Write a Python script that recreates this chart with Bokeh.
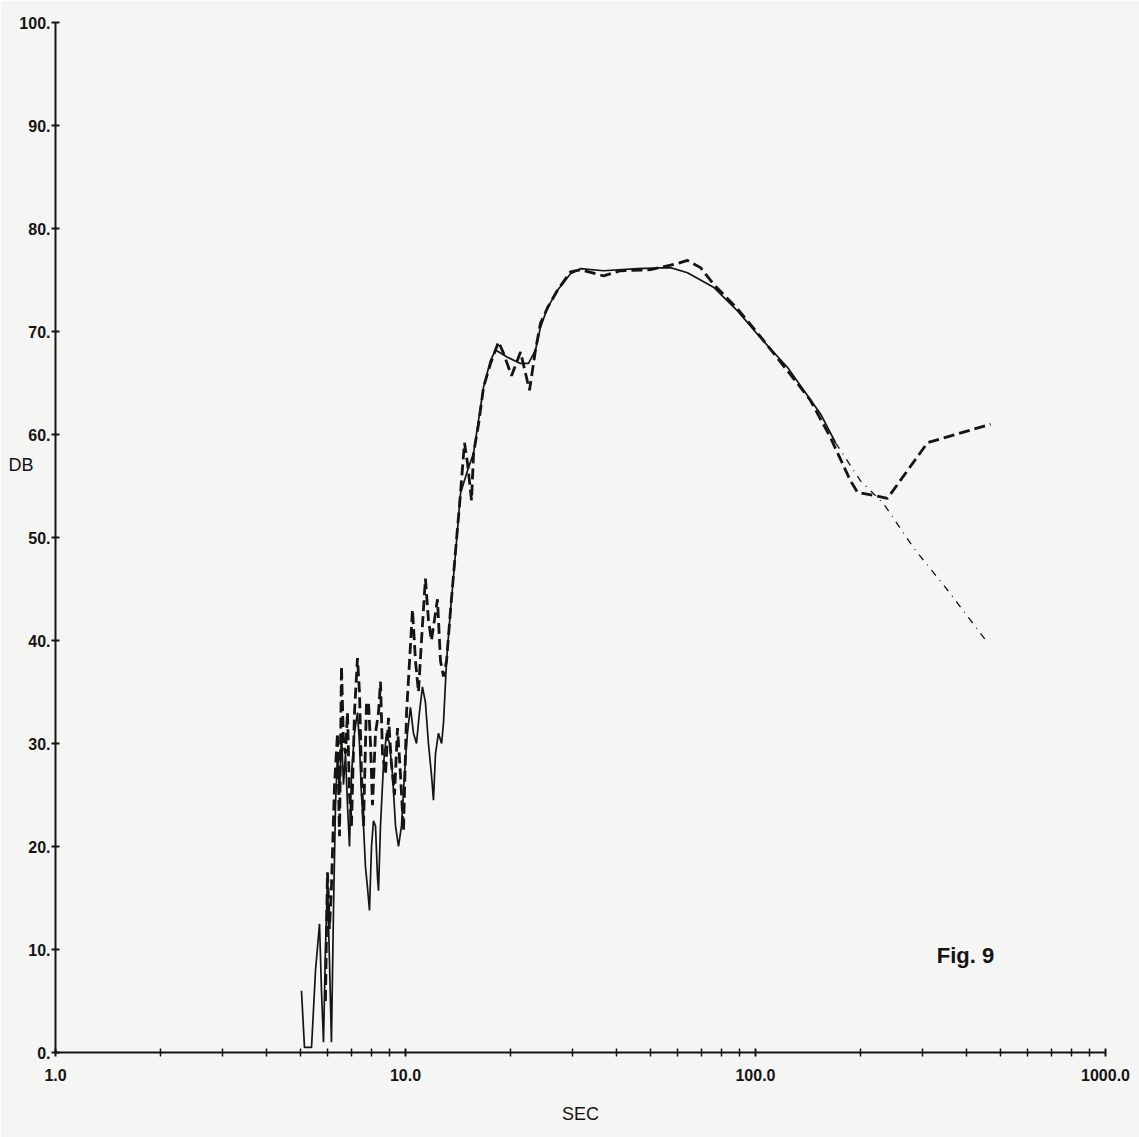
from bokeh.plotting import figure
from bokeh.models import FixedTicker, Label, LinearAxis
from bokeh.embed import file_html
from bokeh.resources import INLINE

# ---- data ----
solid_sec = [5.044, 5.145, 5.389, 5.533, 5.680, 5.754, 5.830, 5.906, 5.984, 6.063, 6.143, 6.228,
             6.310, 6.393, 6.478, 6.563, 6.650, 6.738, 6.827, 6.918, 7.009, 7.149, 7.291, 7.388,
             7.485, 7.586, 7.686, 7.788, 7.891, 7.996, 8.101, 8.208, 8.318, 8.373, 8.483, 8.653,
             8.826, 9.001, 9.180, 9.364, 9.550, 9.740, 9.934, 10.13, 10.33, 10.54, 10.75, 10.96,
             11.18, 11.40, 11.63, 11.86, 12.02, 12.18, 12.42, 12.68, 12.84, 13.10, 13.45, 13.90,
             14.36, 15.04, 15.65, 16.71, 17.50, 18.08, 19.56, 21.31, 22.46, 23.52, 24.30, 25.45,
             27.18, 29.61, 31.62, 36.79, 46.0, 57.17, 63.92, 75.86, 88.84, 103.3, 123.5, 153.4,
             169.3, 199.5, 232.1, 282.8, 353.7, 460.1]
solid_db = [6, 0.5, 0.5, 8, 12.5, 6, 1, 10, 16.5, 9, 1, 14,
            24, 29, 25, 31, 26, 29, 24, 20, 27, 31, 33, 30,
            25, 22, 18, 16, 13.8, 20, 22.5, 22, 17, 15.7, 22, 28,
            31, 30, 27, 22, 20, 22, 27, 31, 33.5, 31, 30, 33,
            35.5, 34, 30, 27, 24.5, 29, 31, 30, 32, 38, 43, 48.5,
            54.3, 56.5, 58.2, 64.6, 67.2, 68.2, 67.5, 66.9, 66.9, 68.2, 70.4, 72.3,
            74.0, 75.6, 76.1, 75.9, 76.1, 76.2, 75.7, 74.3, 72.0, 69.4, 66.5, 62.0,
            59.2, 55.5, 53.3, 49.0, 44.9, 39.8]
solid_tail_start = 84  # index where the thin trace turns dash-dot

dashed_sec = [5.906, 5.984, 6.063, 6.143, 6.269, 6.393, 6.478, 6.563, 6.650, 6.738, 6.827, 6.918,
              7.009, 7.149, 7.291, 7.388, 7.485, 7.586, 7.737, 7.839, 7.943, 8.048, 8.208, 8.373,
              8.483, 8.596, 8.768, 8.942, 9.120, 9.302, 9.487, 9.676, 9.869, 10.07, 10.27, 10.47,
              10.68, 10.89, 11.11, 11.40, 11.63, 11.86, 12.10, 12.34, 12.59, 12.84, 13.10, 13.45,
              13.90, 14.36, 14.74, 15.04, 15.44, 15.65, 16.17, 16.71, 17.50, 18.44, 19.05, 20.09,
              21.31, 22.61, 23.52, 24.30, 25.45, 27.18, 29.61, 31.62, 36.79, 41.15, 50.12, 59.86,
              63.92, 69.66, 75.86, 88.84, 103.3, 130.1, 143.6, 163.8, 186.8, 195.6, 238.3, 310.0,
              469.4]
dashed_db = [5, 17.5, 12, 16, 26, 31, 21, 37.5, 30, 29, 33, 25,
             22, 33, 38.3, 35, 27, 22, 34, 34, 30, 24, 31, 33,
             36, 29, 27, 32.5, 28, 25, 31.5, 27, 21.5, 33, 38, 43,
             38, 35, 40, 46, 42, 40, 42, 44, 38, 36.5, 38, 43,
             48.7, 54.3, 59.2, 57.2, 53.6, 58.2, 61, 64.6, 66.9, 69, 67.9, 65.7,
             68, 64.3, 68.2, 70.8, 72.3, 74.0, 75.8, 76.0, 75.4, 75.9, 76.0, 76.6,
             76.9, 76.2, 74.6, 72.2, 69.5, 65.2, 63.3, 59.7, 55.5, 54.4, 53.8, 59.2,
             61.0]

y_ticks = [0, 10, 20, 30, 40, 50, 60, 70, 80, 90, 100]
y_tick_labels = ["0.", "10.", "20.", "30.", "40.", "50.", "60.", "70.", "80.", "90.", "100."]
x_ticks = [1, 10, 100, 1000]
x_tick_labels = ["1.0", "10.0", "100.0", "1000.0"]
x_minor = [m * d for d in (1, 10, 100) for m in range(2, 10)]
y_title = "DB"
y_title_at = 57
x_title = "SEC"

bg = "#f5f5f3"
ink = "#141414"
font = "Liberation Sans"

p = figure(width=1139, height=1137, x_axis_type="log", x_range=(1, 1000), y_range=(0, 100),
           output_backend="svg", toolbar_location=None,
           min_border_left=55, min_border_right=34, min_border_top=22, min_border_bottom=85)
p.background_fill_color = bg
p.border_fill_color = bg
p.outline_line_color = None
p.xgrid.visible = False
p.ygrid.visible = False

# axes
p.yaxis.ticker = FixedTicker(ticks=y_ticks)
p.yaxis.major_label_overrides = {t: l for t, l in zip(y_ticks, y_tick_labels)}
p.xaxis.ticker = FixedTicker(ticks=x_ticks, minor_ticks=x_minor)
p.xaxis.major_label_overrides = {t: l for t, l in zip(x_ticks, x_tick_labels)}
for ax in (p.xaxis, p.yaxis):
    ax.axis_line_color = ink
    ax.axis_line_width = 2
    ax.major_tick_line_color = ink
    ax.major_tick_line_width = 2
    ax.major_tick_in = 4
    ax.major_tick_out = 4
    ax.major_label_text_font = font
    ax.major_label_text_font_size = "16px"
    ax.major_label_text_font_style = "bold"
    ax.major_label_text_color = ink
p.yaxis.major_label_standoff = 1
p.xaxis.major_label_standoff = 12
p.xaxis.minor_tick_line_color = ink
p.xaxis.minor_tick_line_width = 1.5
p.xaxis.minor_tick_in = 4
p.xaxis.minor_tick_out = 4
p.yaxis.minor_tick_line_color = None

p.xaxis.axis_label = x_title
p.xaxis.axis_label_text_font = font
p.xaxis.axis_label_text_font_size = "18px"
p.xaxis.axis_label_text_font_style = "normal"
p.xaxis.axis_label_text_color = ink
p.xaxis.axis_label_standoff = 20

# "DB" label as an extra, line-less axis on the left
db_axis = LinearAxis(ticker=FixedTicker(ticks=[y_title_at]),
                     major_label_overrides={y_title_at: y_title},
                     axis_line_color=None, major_tick_line_color=None,
                     minor_tick_line_color=None, major_label_standoff=-17,
                     major_tick_in=0, major_tick_out=0,
                     major_label_text_font=font, major_label_text_font_size="18px",
                     major_label_text_color=ink)
p.add_layout(db_axis, "left")

# curves
p.line(solid_sec[:solid_tail_start + 1], solid_db[:solid_tail_start + 1],
       line_color=ink, line_width=1.7)
p.line(solid_sec[solid_tail_start:], solid_db[solid_tail_start:],
       line_color=ink, line_width=1.3, line_dash="7 6 1 6")
p.line(dashed_sec, dashed_db, line_color=ink, line_width=2.8, line_dash="11 5")

# figure tag
p.add_layout(Label(x=398, y=9.4, text="Fig. 9", text_font=font, text_font_size="22px",
                   text_font_style="bold", text_color=ink, text_align="center",
                   text_baseline="middle"))

open("out.html", "w").write(file_html(p, INLINE))
